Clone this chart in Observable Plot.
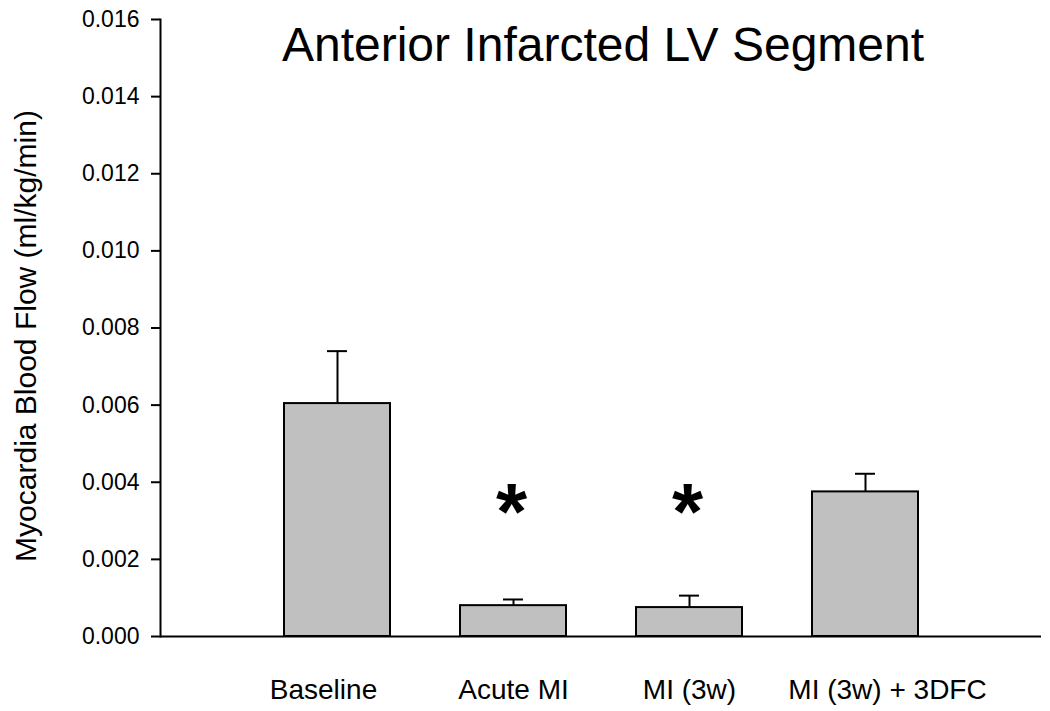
<!DOCTYPE html>
<html>
<head>
<meta charset="utf-8">
<script src="https://cdn.jsdelivr.net/npm/d3@7"></script>
<script src="https://cdn.jsdelivr.net/npm/@observablehq/plot@0.6"></script>
<style>
  html, body { margin: 0; padding: 0; background: #fff; }
  #chart svg { display: block; }
</style>
</head>
<body>
<div id="chart"></div>
<script>
// ---- data ----
const categories = ["Baseline", "Acute MI", "MI (3w)", "MI (3w) + 3DFC"];
const means = [0.00604, 0.00080, 0.00075, 0.00375];
const errors = [0.00136, 0.00016, 0.00031, 0.00047];
const significant = ["Acute MI", "MI (3w)"];
const starLevel = [0.00345, 0.00345];
const yTicks = [0, 0.002, 0.004, 0.006, 0.008, 0.010, 0.012, 0.014, 0.016];
const title = "Anterior Infarcted LV Segment";
const yLabel = "Myocardia Blood Flow (ml/kg/min)";

const rows = categories.map((c, i) => ({cat: c, mean: means[i], err: errors[i]}));
const stars = significant.map((c, i) => ({cat: c, y: starLevel[i]}));

const font = "'Liberation Sans', Arial, Helvetica, sans-serif";

const chart = Plot.plot({
  width: 1050,
  height: 711,
  marginLeft: 160,
  marginRight: 9,
  marginTop: 19,
  marginBottom: 75,
  style: {fontFamily: font, background: "#fff", color: "#000"},
  x: {type: "band", domain: categories, paddingInner: 0.4, paddingOuter: 0.7, axis: null},
  y: {domain: [0, 0.016], axis: null},
  marks: [
    Plot.axisY({ticks: yTicks, tickFormat: d3.format(".3f"), tickSize: 9, tickPadding: 12,
      fontSize: 23, strokeWidth: 2, label: null}),
    Plot.frame({anchor: "left", strokeWidth: 2}),
    // error bars (upper only)
    Plot.ruleX(rows, {x: "cat", y1: "mean", y2: d => d.mean + d.err, strokeWidth: 2}),
    Plot.tickY(rows, {x: "cat", y: d => d.mean + d.err, strokeWidth: 2, insetLeft: 43, insetRight: 43}),
    Plot.barY(rows, {x: "cat", y: "mean", fill: "#c0c0c0", stroke: "#000", strokeWidth: 2}),
    Plot.ruleY([0], {strokeWidth: 2}),
    Plot.text(stars, {x: "cat", y: "y", text: () => "*", fontSize: 80, fontWeight: "bold", dy: 10, dx: -2}),
    // category labels
    Plot.text(rows.filter(d => d.cat === "Baseline"), {x: "cat", text: "cat", frameAnchor: "bottom", dy: 62, dx: -14, fontSize: 28}),
    Plot.text(rows.filter(d => d.cat === "Acute MI" || d.cat === "MI (3w)"), {x: "cat", text: "cat", frameAnchor: "bottom", dy: 62, fontSize: 28}),
    Plot.text(rows.filter(d => d.cat === "MI (3w) + 3DFC"), {x: "cat", text: "cat", frameAnchor: "bottom", dy: 62, dx: 22, fontSize: 28}),
    // title
    Plot.text([title], {frameAnchor: "top", dy: 7, dx: 2, fontSize: 48, text: d => d}),
    // y label
    Plot.text([yLabel], {frameAnchor: "left", textAnchor: "middle", dx: -134, dy: 8, rotate: -90, fontSize: 30, text: d => d})
  ]
});
document.getElementById("chart").appendChild(chart);
</script>
</body>
</html>
